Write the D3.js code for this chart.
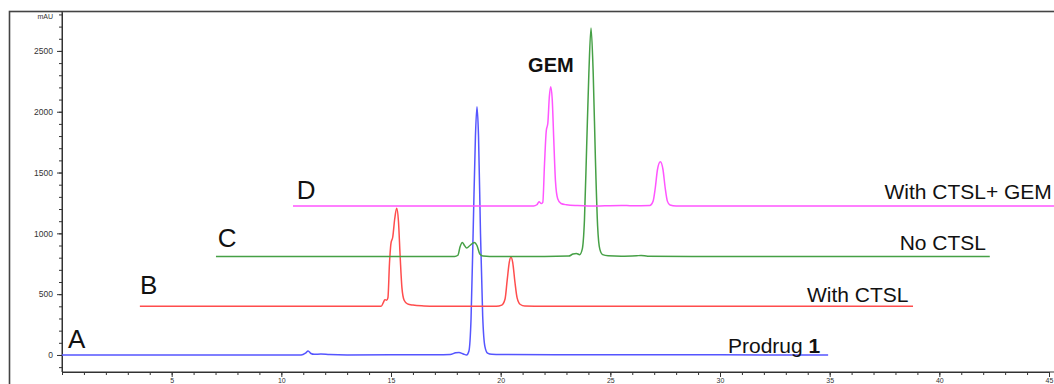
<!DOCTYPE html>
<html>
<head>
<meta charset="utf-8">
<script src="https://cdn.jsdelivr.net/npm/d3@7"></script>
<style>
  html, body { margin: 0; padding: 0; background: #fff; }
  svg { display: block; font-family: 'Liberation Sans', Arial, sans-serif; }
</style>
</head>
<body>
<svg id="chart" width="1054" height="384"></svg>
<script>
// Chromatogram traces: [retention time (min), mAU above the trace's own baseline]
const traceA = [
  [0, 0], [5, 0], [10, 0], [10.9, 0], [11.1, 15], [11.22, 33], [11.35, 12], [11.5, 5],
  [11.8, 8], [12.2, 3], [13, 0], [15, 1], [17, 2], [17.7, 4], [17.95, 18], [18.1, 20],
  [18.3, 8], [18.45, 0], [18.55, 30], [18.65, 300], [18.75, 1050], [18.85, 1800],
  [18.92, 2040], [18.99, 1800], [19.08, 1000], [19.18, 320], [19.28, 70], [19.4, 15],
  [19.6, 5], [20, 3], [25, 2], [30, 1], [34.93, 0]
];
const traceB = [
  [3.55, 0], [8, 0], [12, 0], [14.55, 0], [14.65, 30], [14.72, 55], [14.8, 50], [14.86, 70],
  [14.93, 350], [15.0, 520], [15.08, 570], [15.17, 720], [15.26, 806], [15.34, 700],
  [15.42, 400], [15.5, 150], [15.6, 50], [15.75, 20], [16, 10], [16.5, 3], [17, 0],
  [19.8, 0], [20.05, 10], [20.2, 60], [20.3, 220], [20.4, 370], [20.47, 403], [20.55, 360],
  [20.65, 200], [20.75, 70], [20.9, 15], [21.1, 3], [22, 0], [30, 0], [38.8, 0]
];
const traceC = [
  [7.02, 0], [12, 0], [17.9, 0], [18.05, 10], [18.15, 80], [18.25, 115], [18.35, 90],
  [18.45, 70], [18.6, 90], [18.8, 115], [18.92, 90], [19.05, 20], [19.2, 3], [19.5, 0],
  [22, 0], [23.1, 3], [23.3, 20], [23.45, 25], [23.6, 15], [23.72, 60], [23.82, 300],
  [23.92, 900], [24.02, 1500], [24.12, 1878], [24.22, 1500], [24.32, 800], [24.42, 250],
  [24.52, 60], [24.65, 15], [24.9, 5], [25.5, 2], [26.2, 6], [26.4, 8], [26.7, 2],
  [30, 0], [42.3, 0]
];
const traceD = [
  [10.53, 0], [15, 0], [20, 0], [21.5, 0], [21.65, 10], [21.75, 35], [21.85, 20],
  [21.92, 30], [22.0, 350], [22.08, 620], [22.15, 680], [22.22, 900], [22.28, 981],
  [22.35, 880], [22.42, 550], [22.5, 200], [22.6, 60], [22.75, 20], [23, 10], [23.5, 3],
  [24, 0], [25.5, 5], [26, 2], [26.8, 5], [26.95, 40], [27.05, 150], [27.15, 300],
  [27.28, 364], [27.4, 300], [27.5, 150], [27.6, 40], [27.72, 8], [28, 0], [35, 0], [45.5, 0]
];

const traces = [traceA, traceB, traceC, traceD];
const baselines = [0, 400, 810, 1225];        // mAU offset of each trace
const colors = ['#5555ff', '#ff4d4d', '#46a046', '#ff55ff'];

// Letter tags (left) and condition titles (right)
const letters = ['A', 'B', 'C', 'D'];
const letterT = [0.27, 3.56, 7.1, 10.7];
const letterV = [58, 502, 888, 1283];
const titles = ['Prodrug ', 'With CTSL', 'No CTSL', 'With CTSL+ GEM'];
const titleT = [34.57, 38.59, 42.13, 45.13];
const titleV = [19, 438, 863, 1280];

// Axes
const xMajor = [5, 10, 15, 20, 25, 30, 35, 40, 45];
const xMinor = d3.range(0, 46, 1);
const yMajor = [0, 500, 1000, 1500, 2000, 2500];
const yMinor = d3.range(-100, 2801, 100);

const svg = d3.select('#chart');

const x = d3.scaleLinear().domain([0, 45]).range([62, 1049]);
const y = d3.scaleLinear().domain([-140, 2820]).range([372, 12]);

// Outer frame
svg.append('rect')
  .attr('x', 9.5).attr('y', 11.5)
  .attr('width', 1100).attr('height', 400)
  .attr('fill', 'none')
  .attr('stroke', '#444')
  .attr('stroke-width', 1.6);

// y axis: minor then major ticks
const yAxisG = svg.append('g').attr('transform', 'translate(62,0)');
yAxisG.append('g')
  .call(d3.axisLeft(y).tickValues(yMinor).tickSize(3).tickSizeOuter(0).tickFormat(''));
yAxisG.append('g')
  .call(d3.axisLeft(y).tickValues(yMajor).tickSize(5).tickSizeOuter(0).tickPadding(4)
    .tickFormat(d3.format('d')));

// x axis
const xAxisG = svg.append('g').attr('transform', 'translate(0,372)');
xAxisG.append('g')
  .call(d3.axisBottom(x).tickValues(xMinor).tickSize(3).tickSizeOuter(0).tickFormat(''));
const xMajorG = xAxisG.append('g')
  .call(d3.axisBottom(x).tickValues(xMajor).tickSize(5).tickSizeOuter(0).tickPadding(1)
    .tickFormat(d3.format('d')));

// extend x axis line to the right edge, y axis to top
xAxisG.append('line').attr('x1', 62).attr('x2', 1054).attr('stroke', '#333');
yAxisG.append('line').attr('y1', 11).attr('y2', 372).attr('stroke', '#333');

svg.selectAll('.domain').attr('stroke', '#333');
svg.selectAll('.tick line').attr('stroke', '#333');
svg.selectAll('.tick text')
  .attr('fill', '#333')
  .style('font-size', '8.5px')
  .style('font-family', "'Liberation Sans', Arial, sans-serif");
// bottom labels sit right at the picture's lower edge
xMajorG.selectAll('.tick text').style('font-size', '7px');

svg.append('text')
  .attr('x', 53).attr('y', 19)
  .attr('text-anchor', 'end')
  .attr('fill', '#333')
  .style('font-size', '7px')
  .text('mAU');

// Traces
const line = d3.line()
  .x((d) => x(d[0]))
  .y((d) => y(d[1]))
  .curve(d3.curveMonotoneX);

svg.append('g')
  .selectAll('path')
  .data(traces)
  .enter()
  .append('path')
  .attr('d', (d, i) => line(d.map((p) => [p[0], p[1] + baselines[i]])))
  .attr('fill', 'none')
  .attr('stroke', (d, i) => colors[i])
  .attr('stroke-width', 1.5)
  .attr('stroke-linejoin', 'round');

// Letter tags
svg.append('g')
  .selectAll('text')
  .data(letters)
  .enter()
  .append('text')
  .attr('x', (d, i) => x(letterT[i]))
  .attr('y', (d, i) => y(letterV[i]))
  .attr('fill', '#111')
  .style('font-size', '26px')
  .text((d) => d);

// Condition titles
const titleSel = svg.append('g')
  .selectAll('text')
  .data(titles)
  .enter()
  .append('text')
  .attr('x', (d, i) => x(titleT[i]))
  .attr('y', (d, i) => y(titleV[i]))
  .attr('text-anchor', 'end')
  .attr('fill', '#111')
  .style('font-size', '21px');
titleSel.append('tspan').text((d) => d);
titleSel.filter((d, i) => i === 0)
  .append('tspan')
  .style('font-weight', 'bold')
  .text('1');

// GEM peak annotation
svg.append('text')
  .attr('x', x(22.29)).attr('y', y(2327))
  .attr('text-anchor', 'middle')
  .attr('fill', '#111')
  .style('font-size', '20px')
  .style('font-weight', 'bold')
  .text('GEM');
</script>
</body>
</html>
